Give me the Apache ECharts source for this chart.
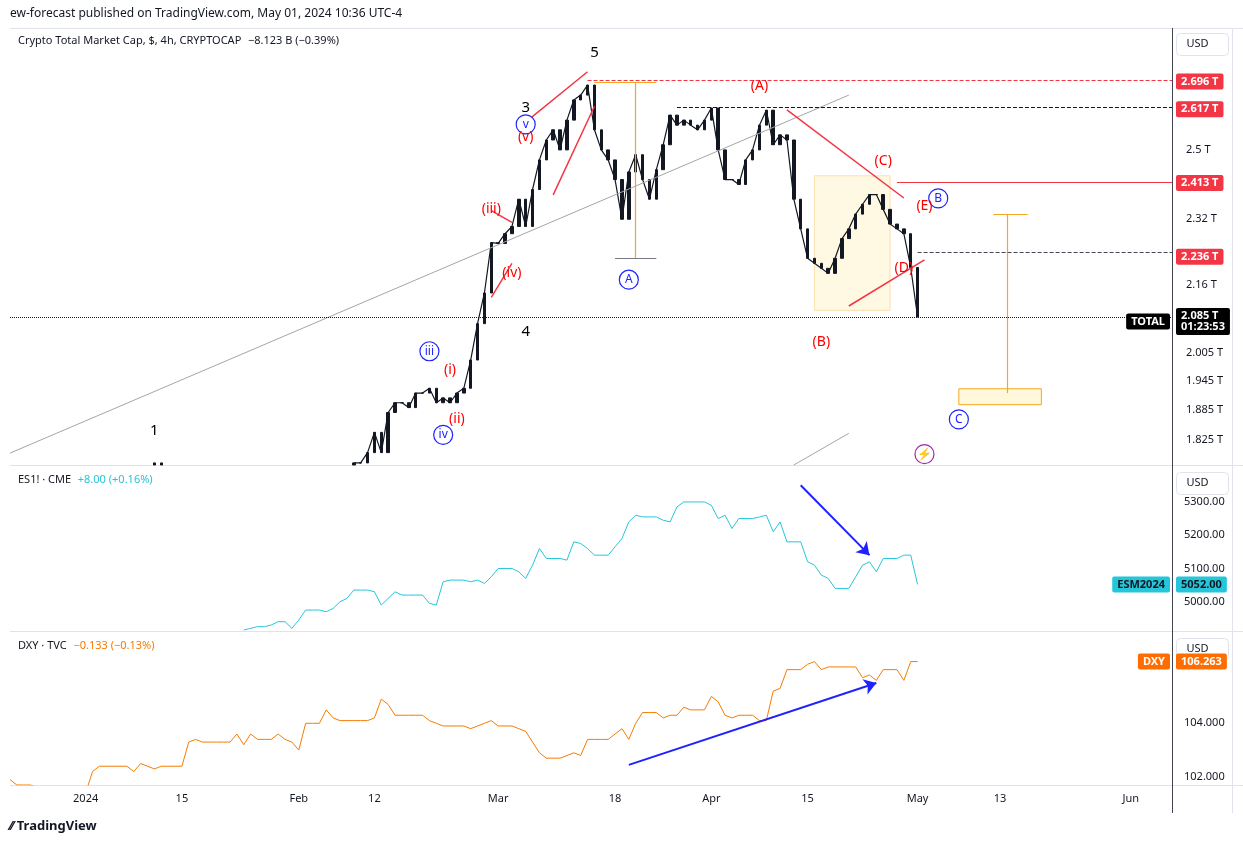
<!DOCTYPE html>
<html><head><meta charset="utf-8">
<script src="https://cdn.jsdelivr.net/npm/echarts@6/dist/echarts.min.js"></script>
<style>html,body{margin:0;padding:0;background:#fff}#c{width:1243px;height:846px}</style>
</head><body><div id="c"></div>
<script>
// ---------- data ----------
const startDate = '2023-12-21', dayCount = 170;
const totalDec = [1.62,1.64,1.65,1.64,1.66,1.63,1.68,1.66,1.63,1.64,1.65];
const totalJan = [1.68,1.70,1.62,1.66,1.65,1.64,1.62,1.72,1.70,1.75,1.78,1.68,1.66,1.62,1.63,1.66,1.64,1.60,1.61,1.61,1.60,1.55,1.53,1.55,1.55,1.62,1.64,1.63,1.69,1.67,1.62];
const totalFeb = [1.64,1.65,1.65,1.63,1.63,1.66,1.68,1.72,1.78,1.78,1.80,1.84,1.80,1.88,1.90,1.90,1.89,1.92,1.92,1.93,1.90,1.91,1.90,1.92,1.93,1.99,2.07,2.14,2.26];
const totalMar = [2.258,2.282,2.30,2.369,2.30,2.394,2.472,2.526,2.554,2.499,2.581,2.638,2.652,2.681,2.554,2.499,2.472,2.420,2.318,2.44,2.486,2.420,2.369,2.446,2.513,2.595,2.567,2.581,2.567,2.554,2.581];
const totalApr = [2.615,2.499,2.420,2.420,2.407,2.472,2.499,2.567,2.609,2.513,2.540,2.526,2.369,2.294,2.222,2.210,2.198,2.186,2.222,2.270,2.294,2.331,2.356,2.381,2.381,2.343,2.306,2.294,2.282,2.20];
const totalMay = [2.085];
const esPre = 34;
const esJan = [4915,4920,4925,4925,4930,4940,4940,4920];
const esFeb = [4945,4975,4975,4975,4970,4980,5000,5010,5035,5035,5035,5030,4990,5010,5030,5020,5020,5020,5020,4995,4990,5060,5065,5065,5065,5060,5065,5055,5075];
const esMar = [5100,5100,5100,5090,5070,5110,5160,5130,5130,5130,5125,5180,5175,5160,5140,5140,5140,5165,5190,5240,5260,5255,5255,5255,5245,5240,5285,5300,5300,5300,5300];
const esApr = [5290,5250,5260,5220,5250,5250,5250,5255,5260,5210,5240,5180,5180,5180,5120,5110,5080,5070,5040,5040,5040,5075,5110,5120,5090,5130,5130,5130,5140,5140];
const esMay = [5052];
const dxyDec = [101.9,101.7,101.7,101.7,101.6,101.4,101.0,101.2,101.3,101.3,101.3];
const dxyJan = [101.4,102.2,102.4,102.4,102.4,102.4,102.4,102.2,102.5,102.4,102.3,102.4,102.4,102.4,102.4,103.3,103.4,103.3,103.3,103.3,103.3,103.3,103.6,103.2,103.6,103.4,103.4,103.4,103.6,103.4,103.3];
const dxyFeb = [103.0,104.0,104.0,104.0,104.5,104.2,104.1,104.1,104.1,104.1,104.1,104.2,104.9,104.7,104.3,104.3,104.3,104.3,104.3,104.1,104.0,103.9,103.9,103.9,103.9,103.8,103.9,104.0,104.1];
const dxyMar = [103.9,103.9,103.9,103.8,103.7,103.3,102.9,102.7,102.7,102.7,102.8,102.9,102.8,103.4,103.4,103.4,103.4,103.6,103.8,103.4,104.0,104.4,104.4,104.4,104.2,104.3,104.3,104.6,104.5,104.5,104.5];
const dxyApr = [105.0,104.8,104.3,104.2,104.3,104.3,104.3,104.1,104.1,105.2,105.3,106.0,106.0,106.0,106.2,106.3,106.0,106.1,106.1,106.1,106.1,106.1,105.7,105.8,105.6,106.0,106.0,106.0,105.6,106.3];
const dxyMay = [106.3];
const totalTicks = ['2.5','2.32','2.16','2.005','1.945','1.885','1.825'];
const esTicks = [5000,5100,5200,5300];
const dxyTicks = [102,104];
const xLabels = {'2024-01-01':'2024','2024-01-15':'15','2024-02-01':'Feb','2024-02-12':'12','2024-03-01':'Mar','2024-03-18':'18','2024-04-01':'Apr','2024-04-15':'15','2024-05-01':'May','2024-05-13':'13','2024-06-01':'Jun'};
const levels = {top:2.696, a:2.617, c:2.413, d:2.236, last:2.085};
const waveLabels = [
 ['2024-03-15',2.776,'5','k'],['2024-03-05',2.615,'3','k'],['2024-03-05',2.534,'(v)','r'],['2024-03-05',2.569,'v','b'],
 ['2024-02-29',2.343,'(iii)','r'],['2024-03-03',2.186,'(iv)','r'],['2024-03-05',2.053,'4','k'],['2024-02-20',2.009,'iii','b'],
 ['2024-02-23',1.969,'(i)','r'],['2024-02-24',1.866,'(ii)','r'],['2024-02-22',1.835,'iv','b'],['2024-01-11',1.844,'1','k'],
 ['2024-03-20',2.171,'A','b'],['2024-04-08',2.679,'(A)','r'],['2024-04-26',2.470,'(C)','r'],['2024-04-17',2.030,'(B)','r'],
 ['2024-04-29',2.198,'(D)','r'],['2024-05-02',2.351,'(E)','r'],['2024-05-04',2.371,'B','b'],['2024-05-07',1.866,'C','b'],['2024-05-02',1.797,'⚡','p']
];
// ---------- build ----------
const dates = [];
{ const d0 = new Date(startDate+'T00:00:00Z'); for (let i=0;i<dayCount;i++){ const d=new Date(d0.getTime()+i*86400000); dates.push(d.toISOString().slice(0,10)); } }
const totalClose = [].concat(totalDec,totalJan,totalFeb,totalMar,totalApr,totalMay);
const esVals = new Array(esPre).fill(null).concat(esJan,esFeb,esMar,esApr,esMay);
const dxyVals = [].concat(dxyDec,dxyJan,dxyFeb,dxyMar,dxyApr,dxyMay);
const L = Math.log;
const yMinT = 1.776, yMaxT = 2.852;
const candles = totalClose.map((c,i)=>{ const o = i? totalClose[i-1] : c;
  const lo = Math.min(o,c), hi = Math.max(o,c);
  if (hi < yMinT) return '-';
  const cl = v=>L(Math.max(v,yMinT));
  return [cl(o),cl(c),cl(lo),cl(hi)]; });
const closeLine = totalClose.map(c=> c<yMinT ? null : L(c));
const font = 'Noto Sans';
const axisLabelStyle = {color:'#131722',fontSize:11,fontFamily:font};
function xAxis(idx, show){ return {type:'category',gridIndex:idx,data:dates,boundaryGap:false,axisLine:{show:false},axisTick:{show:false},
  splitLine:{show:false},axisLabel:{show:show,interval:0,formatter:v=>xLabels[v]||'',color:'#131722',fontSize:11,fontFamily:font,margin:8}}; }
const seg = (a,b,color,opt)=>[{coord:a,lineStyle:Object.assign({color:color,width:1.5,type:'solid'},opt||{})},{coord:b}];
const red='#f23645', blue='#1e22ff', orange='#f5a623';
const last = dates[dayCount-1];
function tag(v,text,bg,pos,fg){ return {yAxis:v,lineStyle:{color:'transparent',width:0},label:{show:true,position:pos||'end',formatter:text,backgroundColor:bg,color:fg||'#fff',
  fontSize:11,fontFamily:font,fontWeight:'bold',padding:[3,5,2,5],borderRadius:2,distance:pos?[2,-8]:4}}; }
const topLines = [
 seg([dates[0],L(1.799)],['2024-04-21',L(2.652)],'#a5a5a5',{width:1}),
 seg(['2024-04-13',L(1.776)],['2024-04-21',L(1.838)],'#a5a5a5',{width:1}),
 seg(['2024-03-04',L(2.56)],['2024-03-14',L(2.72)],red),
 seg(['2024-03-09',L(2.38)],['2024-03-15',L(2.62)],red),
 seg(['2024-02-29',L(2.13)],['2024-03-03',L(2.21)],red),
 seg(['2024-02-29',L(2.34)],['2024-03-03',L(2.31)],red),
 seg(['2024-04-12',L(2.610)],['2024-04-29',L(2.372)],red),
 seg(['2024-04-21',L(2.110)],['2024-05-02',L(2.218)],red),
 seg(['2024-03-21',L(2.69)],['2024-03-21',L(2.222)],orange,{width:1.2}),
 seg(['2024-03-18',L(2.222)],['2024-03-24',L(2.222)],'#787b86',{width:1}),
 seg(['2024-03-15',L(2.69)],['2024-03-24',L(2.69)],orange,{width:1}),
 seg(['2024-05-14',L(2.33)],['2024-05-14',L(1.92)],orange,{width:1.2}),
 seg(['2024-05-12',L(2.33)],['2024-05-17',L(2.33)],orange,{width:1}),
 seg(['2024-03-14',L(levels.top)],[last,L(levels.top)],red,{type:'dashed',width:1}),
 seg(['2024-03-27',L(levels.a)],[last,L(levels.a)],'#131722',{type:'dashed',width:1}),
 seg(['2024-04-28',L(levels.c)],[last,L(levels.c)],red,{width:1}),
 seg(['2024-05-01',L(levels.d)],[last,L(levels.d)],'#434651',{type:'dashed',width:1}),
 seg([dates[0],L(levels.last)],[last,L(levels.last)],'#131722',{type:'dotted',width:1}),
 tag(L(levels.top),'2.696 T',red),tag(L(levels.a),'2.617 T',red),tag(L(levels.c),'2.413 T',red),tag(L(levels.d),'2.236 T',red),
 tag(L(levels.last),'2.085 T\n01:23:53','#000'),tag(L(levels.last),'TOTAL','#000','insideEnd')
];
const labelData = waveLabels.map(w=>{
  const st=w[3], col = st==='r'?'#ff0000':(st==='b'?blue:(st==='p'?'#9c27b0':'#000'));
  const circ = st==='b'||st==='p';
  return {value:[w[0],L(w[1])],name:w[2],symbol:'circle',symbolSize:circ?19:1,
    itemStyle:{color:'#fff',opacity:circ?1:0.01,borderColor:col,borderWidth:circ?1.2:0},
    label:{show:true,opacity:1,position:'inside',formatter:w[2],color:col,fontSize:circ?12:(st==='k'?15:14),fontFamily:font}};
});
const option = {
 animation:false,
 grid:[{left:10,right:71,top:28,height:437},{left:10,right:71,top:465,height:166},{left:10,right:71,top:631,height:154}],
 xAxis:[xAxis(0,false),xAxis(1,false),xAxis(2,true)],
 yAxis:[
  {type:'value',gridIndex:0,position:'right',min:L(yMinT),max:L(yMaxT),splitLine:{show:false},axisLine:{show:false},axisTick:{show:false},
   axisLabel:Object.assign({customValues:totalTicks.map(t=>L(+t)),formatter:v=>{const t=totalTicks.find(s=>Math.abs(L(+s)-v)<1e-6);return t? t+' T':'';},margin:14},axisLabelStyle)},
  {type:'value',gridIndex:1,position:'right',min:4912,max:5411,splitLine:{show:false},axisLine:{show:false},axisTick:{show:false},
   axisLabel:Object.assign({customValues:esTicks,formatter:v=>v.toFixed(2),margin:12},axisLabelStyle)},
  {type:'value',gridIndex:2,position:'right',min:101.7,max:107.44,splitLine:{show:false},axisLine:{show:false},axisTick:{show:false},
   axisLabel:Object.assign({customValues:dxyTicks,formatter:v=>v.toFixed(3),margin:12},axisLabelStyle)}
 ],
 series:[
  {type:'line',xAxisIndex:0,yAxisIndex:0,data:closeLine,symbol:'none',lineStyle:{color:'#131722',width:1.2},
   markLine:{silent:true,symbol:['none','none'],label:{show:false},data:topLines},
   markArea:{silent:true,data:[
     [{coord:['2024-05-07',L(1.929)],itemStyle:{color:'rgba(255,235,150,0.35)',borderColor:orange,borderWidth:1}},{coord:['2024-05-19',L(1.896)]}],
     [{coord:['2024-04-16',L(2.10)],itemStyle:{color:'rgba(255,240,190,0.45)',borderColor:'rgba(245,166,35,0.3)',borderWidth:1}},{coord:['2024-04-27',L(2.43)]}]
   ]}},
  {type:'candlestick',xAxisIndex:0,yAxisIndex:0,data:candles,barWidth:3,
   itemStyle:{color:'#131722',color0:'#131722',borderColor:'#131722',borderColor0:'#131722'}},
  {type:'scatter',xAxisIndex:0,yAxisIndex:0,data:labelData,z:5},
  {type:'line',xAxisIndex:1,yAxisIndex:1,data:esVals,symbol:'none',lineStyle:{color:'#26c6da',width:1},
   markLine:{silent:true,symbol:['none','none'],data:[
    [{coord:['2024-04-14',5350],symbol:'none',lineStyle:{color:blue,width:2,type:'solid'},label:{show:false}},{coord:['2024-04-24',5140],symbol:'arrow',symbolSize:12}],
    tag(5052,'5052.00','#26c6da',null,'#131722'),tag(5052,'ESM2024','#26c6da','insideEnd','#131722')
   ]}},
  {type:'line',xAxisIndex:2,yAxisIndex:2,data:dxyVals,symbol:'none',lineStyle:{color:'#f57c00',width:1},
   markLine:{silent:true,symbol:['none','none'],data:[
    [{coord:['2024-03-20',102.45],symbol:'none',lineStyle:{color:blue,width:2,type:'solid'},label:{show:false}},{coord:['2024-04-25',105.5],symbol:'arrow',symbolSize:12}],
    tag(106.3,'106.263','#ff6d00'),tag(106.3,'DXY','#ff6d00','insideEnd')
   ]}}
 ],
 graphic:[
  {type:'text',left:10,top:8,style:{text:'ew-forecast published on TradingView.com, May 01, 2024 10:36 UTC-4',fill:'#131722',font:'12px '+font}},
  {type:'rect',shape:{x:10,y:28,width:1233,height:1},style:{fill:'#e0e3eb'}},
  {type:'rect',shape:{x:10,y:465,width:1233,height:1},style:{fill:'#e0e3eb'}},
  {type:'rect',shape:{x:10,y:631,width:1233,height:1},style:{fill:'#e0e3eb'}},
  {type:'rect',shape:{x:10,y:785,width:1233,height:1},style:{fill:'#e0e3eb'}},
  {type:'rect',shape:{x:1172,y:28,width:1,height:785},style:{fill:'#434651'}},
  {type:'rect',shape:{x:1232,y:28,width:1,height:785},style:{fill:'#e0e3eb'}},
  {type:'text',left:18,top:35,style:{rich:{a:{fill:'#131722',font:'11px '+font},b:{fill:'#131722',font:'11px '+font}},text:'{a|Crypto Total Market Cap, $, 4h, CRYPTOCAP}  {b|−8.123 B (−0.39%)}'}},
  {type:'text',left:18,top:474,style:{rich:{a:{fill:'#131722',font:'11px '+font},b:{fill:'#26c6da',font:'11px '+font}},text:'{a|ES1! · CME}  {b|+8.00 (+0.16%)}'}},
  {type:'text',left:18,top:640,style:{rich:{a:{fill:'#131722',font:'11px '+font},b:{fill:'#f57c00',font:'11px '+font}},text:'{a|DXY · TVC}  {b|−0.133 (−0.13%)}'}},
  ...[33,472,638].map(y=>({type:'group',left:1176,top:y,children:[
    {type:'rect',shape:{x:0,y:0,width:52,height:22,r:4},style:{fill:'#fff',stroke:'#e0e3eb'}},
    {type:'text',style:{x:10,y:5,text:'USD',fill:'#131722',font:'11px '+font}}]})),
  {type:'text',left:10,top:820,style:{text:'⁄⁄ TradingView',fill:'#131722',font:'bold 13px '+font}}
 ]
};
const chart = echarts.init(document.getElementById('c'));
chart.setOption(option);
</script></body></html>
